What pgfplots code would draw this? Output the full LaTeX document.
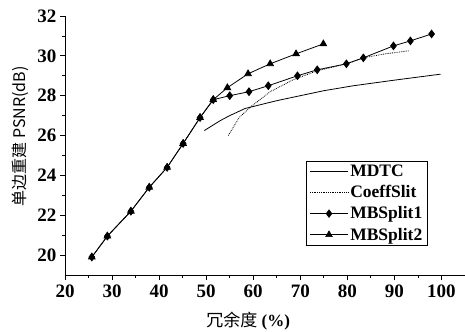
\documentclass[border=0pt]{standalone}
\usepackage{fontspec}
\setmainfont{Liberation Serif}
\newfontfamily\cjk{Noto Sans CJK SC}
\usepackage{pgfplots}
\pgfplotsset{compat=1.18}
\begin{document}
\begin{tikzpicture}
\begin{axis}[
  scale only axis,
  width=400bp, height=259bp,
  xmin=20, xmax=105, ymin=19, ymax=32,
  axis lines=left,
  axis line style={-, line width=0.9pt},
  xtick={20,30,...,100},
  ytick={20,22,...,32},
  minor x tick num=1,
  minor y tick num=1,
  tick align=outside,
  major tick length=5bp,
  minor tick length=3bp,
  tick style={black, line width=0.8pt},
  /pgf/number format/assume math mode=true,
  ticklabel style={font=\fontsize{19bp}{21bp}\selectfont\bfseries},
  xticklabel style={yshift=-1bp},
  xlabel={{\cjk 冗余度} \textbf{(\%)}},
  ylabel={\cjk 单边重建 PSNR(dB)},
  xlabel style={font=\fontsize{17bp}{19bp}\selectfont, at={(rel axis cs:0.458,0)}, anchor=north, yshift=-34bp},
  ylabel style={font=\fontsize{16bp}{18bp}\selectfont, at={(ticklabel cs:0.535)}, yshift=2bp},
  legend cell align=left,
  legend style={at={(axis cs:71.3,24.74)}, anchor=north west, draw=black, line width=0.6pt,
    font=\fontsize{17.5bp}{19bp}\selectfont\bfseries, row sep=3.5bp, inner xsep=3bp, inner ysep=2bp},
  legend image code/.code={\draw[mark repeat=2,mark phase=2,#1,line width=0.6pt] plot coordinates {(0bp,0bp) (19bp,0bp) (38bp,0bp)};},
  every axis plot/.append style={black, line width=0.8pt},
]
\coordinate (BL) at (rel axis cs:0,0);
\coordinate (TR) at (rel axis cs:1,1);
\addplot[no marks] coordinates {
 (49.6,26.25) (53,26.75) (55,27.0) (58.3,27.36) (65,27.75) (70,28.0) (75,28.25) (81.3,28.5) (90,28.78) (99.8,29.08)
};
\addlegendentry{MDTC}
\addplot[no marks, densely dotted] coordinates {
 (54.7,26.0) (57,26.9) (59.5,27.45) (63.6,28.2) (68.5,28.8) (73.6,29.25) (79.8,29.6) (83.4,29.9) (88,30.1) (93,30.25)
};
\addlegendentry{CoeffSlit}
\addplot[mark=diamond*, mark size=3.8bp, mark options={solid}] coordinates {
 (25.7,19.9) (29,20.95) (34,22.2) (37.9,23.4) (41.7,24.4) (45.1,25.6) (48.7,26.9) (51.5,27.8) (55,28.0)
 (59.1,28.2) (63.2,28.5) (69.4,29.0) (73.6,29.3) (79.8,29.6) (83.4,29.9) (89.8,30.5) (93.4,30.75) (97.9,31.1)
};
\addlegendentry{MBSplit1}
\addplot[mark=triangle*, mark size=3.8bp, mark options={solid}] coordinates {
 (25.7,19.9) (29,20.95) (34,22.2) (37.9,23.4) (41.7,24.4) (45.1,25.6) (48.7,26.9) (51.5,27.8)
 (54.5,28.4) (58.9,29.1) (63.6,29.6) (69.1,30.1) (74.9,30.6)
};
\addlegendentry{MBSplit2}
\end{axis}
\pgfresetboundingbox
\path ([xshift=-65bp,yshift=-57bp]BL) rectangle ([yshift=16bp]TR);
\end{tikzpicture}
\end{document}
